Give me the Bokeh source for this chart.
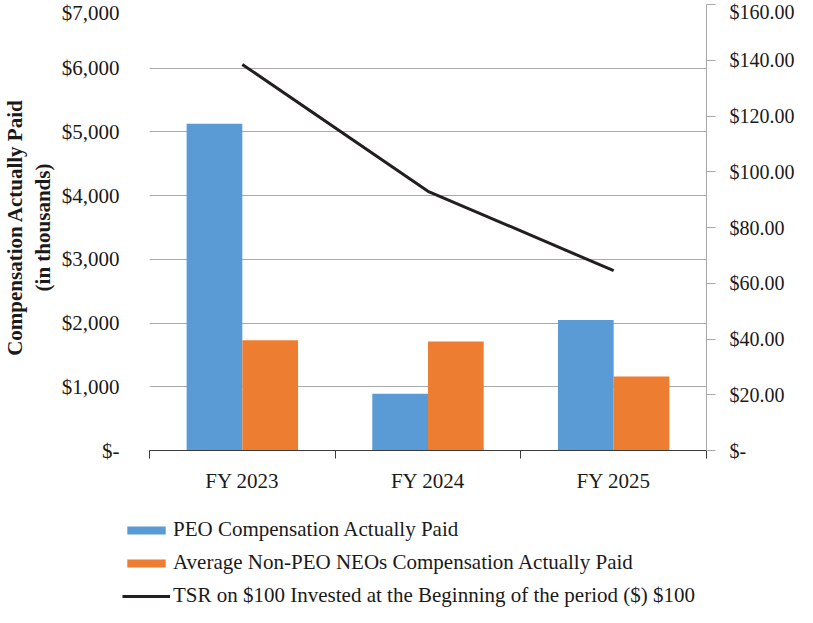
from bokeh.plotting import figure
from bokeh.layouts import column
from bokeh.models import Range1d, LinearAxis, FixedTicker, Legend, LegendItem
from bokeh.embed import file_html
from bokeh.resources import INLINE

categories = ["FY 2023", "FY 2024", "FY 2025"]
peo_cap = [5130, 890, 2050]
neo_cap = [1730, 1710, 1160]
tsr = [138.5, 93.0, 64.5]
left_ticks = [0, 1000, 2000, 3000, 4000, 5000, 6000, 7000]
right_ticks = [0, 20, 40, 60, 80, 100, 120, 140, 160]
series_names = ["PEO Compensation Actually Paid",
                "Average Non-PEO NEOs Compensation Actually Paid",
                "TSR on $100 Invested at the Beginning of the period ($) $100"]

BLUE = "#5B9BD5"
ORANGE = "#ED7D31"
LINE = "#231F20"
GRID = "#A9A9A9"
TEXT = "#1A1A1A"
FONT = "Liberation Serif"
FS = "21px"

n = len(categories)
centers = [i + 0.5 for i in range(n)]
bw = 0.3

p = figure(width=797, height=510, x_range=Range1d(0, n), y_range=Range1d(0, left_ticks[-1]),
           output_backend="svg", toolbar_location=None,
           min_border_left=142, min_border_right=88, min_border_top=4, min_border_bottom=60)
p.extra_y_ranges = {"tsr": Range1d(0, right_ticks[-1])}
p.outline_line_color = None

r1 = p.vbar(x=[c - bw / 2 for c in centers], top=peo_cap, width=bw, fill_color=BLUE, line_color=None)
r2 = p.vbar(x=[c + bw / 2 for c in centers], top=neo_cap, width=bw, fill_color=ORANGE, line_color=None)
r3 = p.line(x=centers, y=tsr, y_range_name="tsr", line_width=3, line_color=LINE)

# left axis
ya = p.yaxis[0]
ya.ticker = FixedTicker(ticks=left_ticks)
ya.major_label_overrides = {t: ("$-" if t == 0 else f"${t:,}") for t in left_ticks}
ya.axis_line_color = None
ya.major_tick_line_color = None
ya.minor_tick_line_color = None
ya.major_label_standoff = 24
ya.major_label_text_font = FONT
ya.major_label_text_font_size = FS
ya.major_label_text_color = TEXT
ya.axis_label = "Compensation Actually Paid\n(in thousands)"
ya.axis_label_text_font = FONT
ya.axis_label_text_font_size = "21px"
ya.axis_label_text_font_style = "bold"
ya.axis_label_text_line_height = 1.15
ya.axis_label_text_color = TEXT
ya.axis_label_standoff = 4
p.ygrid.grid_line_color = GRID
p.xgrid.grid_line_color = None

# right axis
ra = LinearAxis(y_range_name="tsr", ticker=FixedTicker(ticks=right_ticks))
ra.major_label_overrides = {t: ("$-" if t == 0 else f"${t:,.2f}") for t in right_ticks}
ra.axis_line_color = GRID
ra.major_tick_line_color = GRID
ra.major_tick_out = 9
ra.major_tick_in = 0
ra.minor_tick_line_color = None
ra.major_label_standoff = 14
ra.axis_label_standoff = 0
ra.major_label_text_font = FONT
ra.major_label_text_font_size = "20px"
ra.major_label_text_color = TEXT
p.add_layout(ra, "right")

# x axis
xa = p.xaxis[0]
xa.ticker = FixedTicker(ticks=centers, minor_ticks=list(range(n + 1)))
xa.major_label_overrides = {c: cat for c, cat in zip(centers, categories)}
xa.major_tick_out = 0
xa.major_tick_in = 0
xa.major_tick_line_color = None
xa.minor_tick_out = 8
xa.minor_tick_in = 0
xa.minor_tick_line_color = "#3A3A3A"
xa.axis_line_color = "#3A3A3A"
xa.major_label_standoff = 10
xa.major_label_text_font = FONT
xa.major_label_text_font_size = FS
xa.major_label_text_color = TEXT

# legend strip: a second figure without axes, whose frame spans its whole area
lf = figure(width=797, height=97, x_range=Range1d(0, 1), y_range=Range1d(0, 1),
            x_axis_type=None, y_axis_type=None,
            output_backend="svg", toolbar_location=None,
            min_border=0, min_border_left=0, min_border_right=0,
            min_border_top=0, min_border_bottom=0)
lf.grid.visible = False
lf.outline_line_color = None
for fig in (p, lf):
    if "frame_align" in fig.properties():
        fig.frame_align = False
# legend-only glyphs placed far outside the visible range
l1 = lf.vbar(x=[-50], bottom=[-60], top=[-50], width=0.1, fill_color=BLUE, line_color=None)
l2 = lf.vbar(x=[-50], bottom=[-60], top=[-50], width=0.1, fill_color=ORANGE, line_color=None)
l3 = lf.line(x=[-50, -49], y=[-50, -50], line_width=3, line_color=LINE)

legend = Legend(items=[LegendItem(label=series_names[0], renderers=[l1]),
                       LegendItem(label=series_names[1], renderers=[l2]),
                       LegendItem(label=series_names[2], renderers=[l3])],
                location=(122, -1), orientation="vertical",
                border_line_color=None, background_fill_alpha=0,
                padding=0, margin=0, glyph_width=48, glyph_height=10,
                label_height=15, spacing=8, label_standoff=3,
                label_text_font=FONT, label_text_font_size=FS, label_text_color=TEXT)
lf.add_layout(legend)

open("out.html", "w").write(file_html(column(p, lf), INLINE))
